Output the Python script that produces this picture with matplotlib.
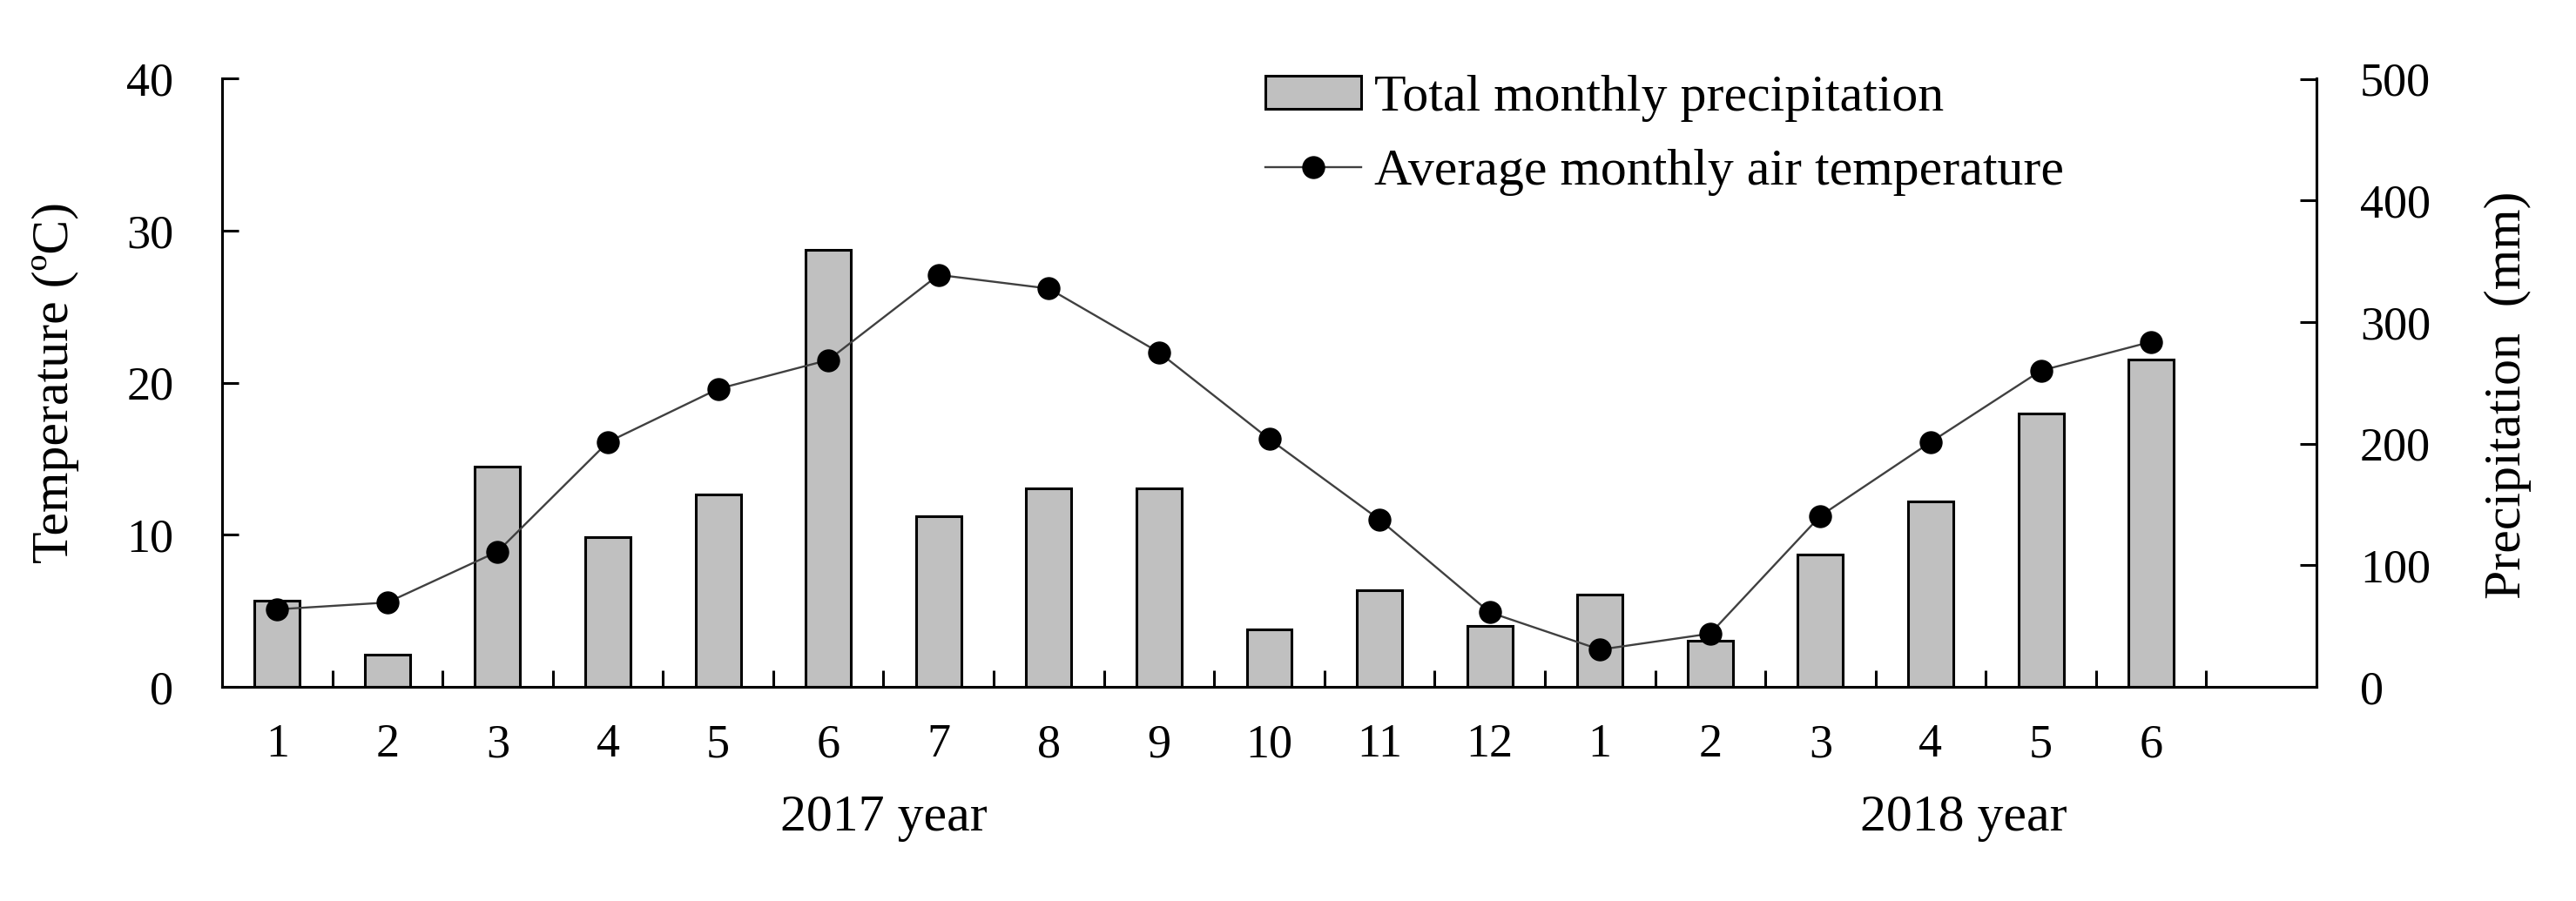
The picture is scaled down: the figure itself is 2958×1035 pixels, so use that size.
import matplotlib
matplotlib.use('Agg')
import matplotlib.pyplot as plt
import numpy as np

months = ['1', '2', '3', '4', '5', '6', '7', '8', '9', '10', '11', '12',
          '1', '2', '3', '4', '5', '6', '']
precip = [71, 26.5, 181, 123, 158, 359, 140, 163, 163, 47, 79.5, 50,
          76, 38, 109, 152.5, 225, 269]
temp = [5.1, 5.55, 8.9, 16.1, 19.6, 21.5, 27.1, 26.2, 22.0, 16.3, 11.0, 4.9,
        2.45, 3.5, 11.25, 16.1, 20.8, 22.7]
years = ['2017 year', '2018 year']
year_pos = [5.5, 15.3]

plt.rcParams['font.family'] = ['Liberation Serif', 'DejaVu Serif']
fs = 39   # tick numbers
fs2 = 43  # words

W, H = 2958, 1035
fig = plt.figure(figsize=(W / 100, H / 100), dpi=100)
ax = fig.add_axes([255 / W, 1 - 789 / H, (2660 - 255) / W, (789 - 90.5) / H])
ax2 = ax.twinx()

x = np.arange(len(precip))
bars = ax2.bar(x, precip, width=0.41, color='#c0c0c0', edgecolor='black',
               linewidth=2.2, label='Total monthly precipitation', zorder=1)
ax.set_zorder(2)
ax.patch.set_visible(False)
line, = ax.plot(np.arange(len(temp)), temp, color='#404040', linewidth=1.7,
                marker='o', markersize=18, markerfacecolor='black',
                markeredgecolor='black', label='Average monthly air temperature')

n = len(months)
ax.set_xlim(-0.5, n - 0.5)
ax.set_ylim(0, 40)
ax2.set_ylim(0, 500)
ax.set_yticks([0, 10, 20, 30, 40])
ax2.set_yticks([0, 100, 200, 300, 400, 500])

# tick marks between months, labels under each month
ax.set_xticks(np.arange(-0.5, n - 0.5, 1)[1:], minor=False)
ax.set_xticklabels([])
ax.set_xticks(np.arange(n), minor=True)
ax.set_xticklabels(months, minor=True)
ax.tick_params(axis='x', which='major', direction='in', length=14, width=2.2)
ax.tick_params(axis='x', which='minor', length=0, pad=30, labelsize=fs)
ax.tick_params(axis='y', direction='in', length=14, width=2.2, pad=40, labelsize=fs)
ax2.tick_params(axis='y', direction='in', length=14, width=2.2, pad=36, labelsize=fs)

for a in (ax, ax2):
    for s in a.spines.values():
        s.set_linewidth(2.2)
    a.spines['top'].set_visible(False)

ax.text(-0.0794, 0.5, 'Temperature (ºC)', transform=ax.transAxes, rotation=90,
        ha='center', va='center', fontsize=fs2)
ax.text(1.0915, 0.48, 'Precipitation  (mm)', transform=ax.transAxes, rotation=90,
        ha='center', va='center', fontsize=fs2)

for lab, p in zip(years, year_pos):
    ax.text(p, -0.216, lab, transform=ax.get_xaxis_transform(), ha='center',
            va='center', fontsize=fs2)

fig.legend([bars, line], [bars.get_label(), line.get_label()], loc='upper left',
           bbox_to_anchor=(1453 / W, 1 - 86 / H), frameon=False, fontsize=fs2,
           borderpad=0, borderaxespad=0, handlelength=1.85, handleheight=0.62,
           handletextpad=0.25, labelspacing=0.52)

fig.savefig('out.png', dpi=100)
